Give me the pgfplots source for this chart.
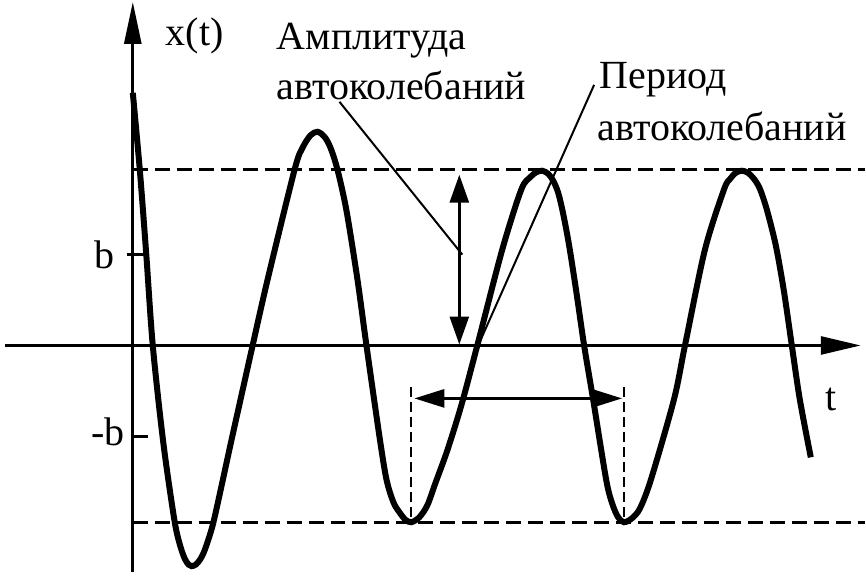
\documentclass[border=0pt]{standalone}
\usepackage{fontspec}
\setmainfont{Liberation Serif}
\usepackage{pgfplots}
\pgfplotsset{compat=1.18}
\usetikzlibrary{arrows.meta}

\begin{document}
\begin{tikzpicture}
\begin{axis}[
    scale only axis,
    width=433pt, height=288.5pt,
    xmin=-133, xmax=733, ymin=-231, ymax=346,
    hide axis, clip=false,
    font=\fontsize{20}{25}\selectfont,
]
\path (axis cs:-133,-231) rectangle (axis cs:733,346);

% limit cycle levels
\draw[line width=1.3pt, dash pattern=on 7.5pt off 3.5pt] (axis cs:0,176) -- (axis cs:733,176);
\draw[line width=1.3pt, dash pattern=on 7.5pt off 3.5pt] (axis cs:0,-177) -- (axis cs:733,-177);
\draw[line width=1pt, dash pattern=on 5pt off 2.5pt] (axis cs:279,-42) -- (axis cs:279,-177);
\draw[line width=1pt, dash pattern=on 5pt off 2.5pt] (axis cs:492,-42) -- (axis cs:492,-177);

% axes
\draw[line width=1.4pt, -{Triangle[length=20pt,width=9pt]}] (axis cs:-128,0) -- (axis cs:729,0);
\draw[line width=1.4pt, -{Triangle[length=21pt,width=8.5pt]}] (axis cs:0,-227) -- (axis cs:0,344);
\draw[line width=1.2pt] (axis cs:-6,91) -- (axis cs:12,91);
\draw[line width=1.2pt] (axis cs:-2,-91) -- (axis cs:15,-91);

\node at (axis cs:-28,91) {b};
\node at (axis cs:-25,-86) {-b};
\node at (axis cs:62,310) {x(t)};
\node at (axis cs:699,-54) {t};

% oscillation
\addplot[line width=3pt, smooth, no markers] coordinates {
(0,253) (7,176) (13.5,91) (20,0) (30.5,-97) (41.5,-174) (47,-199) (52,-213.5) (56,-219.6) (59,-221)
(63,-219.5) (67,-215) (72,-205) (80,-180) (89,-140) (99,-94) (120,0) (135,66) (162,176) (170,198) (178,210.5) (185,214)
(192,209) (198,198) (205,176) (214,135) (225,66) (234,0) (247,-91) (254,-134) (261,-157) (267,-167) (273,-174.5) (279,-177)
(287,-172) (295,-160) (303,-138) (315,-105) (329,-60) (345,0) (370,96) (389,156) (398,168.5) (404,173.4) (410,175)
(416,172) (421,165) (426,153) (431,132) (437,100) (444,55) (452,0) (461,-54) (474,-134) (480,-158) (486,-172) (492,-177)
(500,-173) (508,-163) (519,-134) (542,-54) (553,0) (573,96) (592,156) (598,166.6) (604,173) (610,175)
(616,173) (622,167) (628,157) (635,136) (644,100) (652,55) (660,0) (668,-54) (679,-112)
};

% amplitude
\draw[line width=1.4pt, {Triangle[length=14pt,width=9.5pt]}-{Triangle[length=14pt,width=9.5pt]}] (axis cs:327,171) -- (axis cs:327,1);
\draw[line width=1pt] (axis cs:207,244) -- (axis cs:330,91);
\node[anchor=base west, inner sep=0pt] at (axis cs:144,296) {Амплитуда};
\node[anchor=base west, inner sep=0pt] at (axis cs:144,246) {автоколебаний};

% period
\draw[line width=1.4pt, {Triangle[length=15pt,width=9pt]}-{Triangle[length=15pt,width=9pt]}] (axis cs:282,-53) -- (axis cs:490,-53);
\draw[line width=1pt] (axis cs:462,261) -- (axis cs:345,-2);
\node[anchor=base west, inner sep=0pt] at (axis cs:467,257) {Период};
\node[anchor=base west, inner sep=0pt] at (axis cs:465,205) {автоколебаний};
\end{axis}
\end{tikzpicture}
\end{document}
